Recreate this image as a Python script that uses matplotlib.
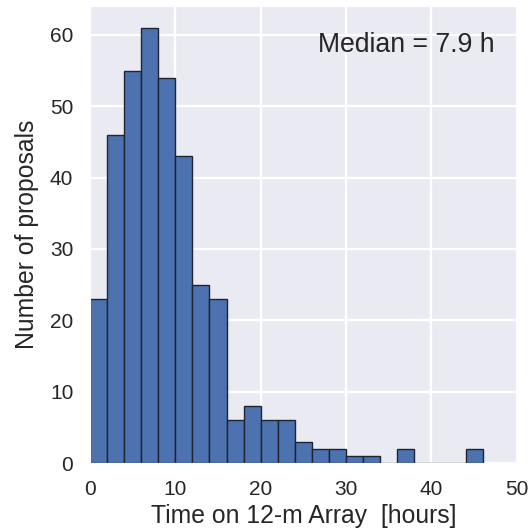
import matplotlib
matplotlib.use("Agg")
import matplotlib.pyplot as plt
import numpy as np
import seaborn as sns

# histogram counts, bins of 2 hours from 0 to 46
bin_edges = np.arange(0, 48, 2)
counts = [23, 46, 55, 61, 54, 43, 25, 23, 6, 8, 6, 6, 3, 2, 2, 1, 1, 0, 2, 0, 0, 0, 2]
median_hours = 7.9

sns.set_style("darkgrid")
plt.rcParams["font.family"] = ["Liberation Sans", "DejaVu Sans"]
plt.rcParams["text.color"] = "#262626"
plt.rcParams["axes.labelcolor"] = "#262626"
plt.rcParams["xtick.color"] = "#262626"
plt.rcParams["ytick.color"] = "#262626"
plt.rcParams["grid.linewidth"] = 1.6

fig = plt.figure(figsize=(5.29, 5.30), dpi=100)
ax = fig.add_axes([0.170, 0.1264, 0.807, 0.8623])

ax.hist(bin_edges[:-1], bins=bin_edges, weights=counts,
        color="#4C72B0", edgecolor="#1f2433", linewidth=1.0)

ax.set_xlim(0, 50)
ax.set_xticks([0, 10, 20, 30, 40, 50])
ax.set_yticks([0, 10, 20, 30, 40, 50, 60])
ax.tick_params(labelsize=15, pad=8.5)
ax.set_xlabel("Time on 12-m Array  [hours]", fontsize=17.8, labelpad=4)
ax.set_ylabel("Number of proposals", fontsize=17.8, labelpad=8)

ax.text(0.949, 0.899, f"Median = {median_hours} h", transform=ax.transAxes,
        ha="right", va="baseline", fontsize=19.2)

fig.savefig("out.png", dpi=100)
